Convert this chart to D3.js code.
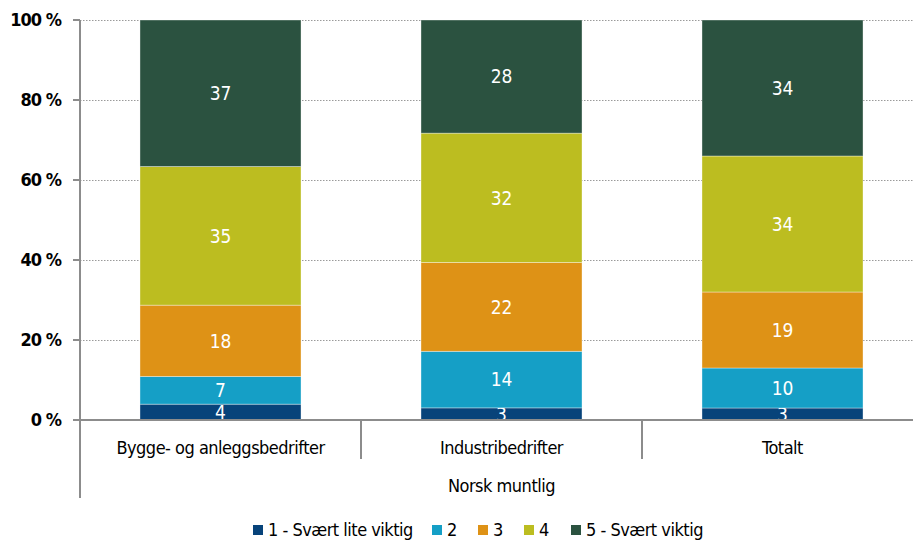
<!DOCTYPE html>
<head>
	<meta charset="UTF-8">
	<script src="https://d3js.org/d3.v7.min.js"></script>
<style>
	body{ margin: 0; background-color: #fff; }
	svg{ display: block; }
	text{ font-family: "DejaVu Sans Condensed", "DejaVu Sans", sans-serif; font-stretch: condensed; }
</style>
</head>
<body>
	<svg width=913 height=540></svg>
</body>
<script>
	// Data
	var categories = ["Bygge- og anleggsbedrifter", "Industribedrifter", "Totalt"];
	var seriesNames = ["1 - Svært lite viktig", "2", "3", "4", "5 - Svært viktig"];
	var seriesColors = ["#07437a", "#159fc6", "#de9216", "#bcbd20", "#2b5240"];
	var s1 = [4, 3, 3];
	var s2 = [7, 14, 10];
	var s3 = [18, 22, 19];
	var s4 = [35, 32, 34];
	var s5 = [37, 28, 34];
	var yTicks = [0, 0.2, 0.4, 0.6, 0.8, 1];
	var groupLabel = "Norsk muntlig";

	var allSeries = [s1, s2, s3, s4, s5];
	var rows = categories.map(function(c, i){
		var r = {cat: c};
		seriesNames.forEach(function(s, j){ r[s] = allSeries[j][i]; });
		return r;
	});

	var svg = d3.select("svg");
	var plotLeft = 80, plotRight = 923, plotTop = 20, plotBottom = 420;
	var axisGray = "#8c8c8c";

	var x = d3.scaleBand().domain(categories).range([plotLeft, plotRight]);
	var y = d3.scaleLinear().domain([0, 1]).range([plotBottom, plotTop]);
	var barW = x.bandwidth() * 0.573;

	// Gridlines (dotted)
	svg.append("g").selectAll("line")
		.data(yTicks.filter(function(t){ return t > 0; })).enter()
		.append("line")
		.attr("x1", plotLeft).attr("x2", 913)
		.attr("y1", function(d){ return y(d) + 0.5; })
		.attr("y2", function(d){ return y(d) + 0.5; })
		.attr("stroke", "#9a9a9a")
		.attr("stroke-width", 1)
		.attr("stroke-dasharray", "1.5,1.5");

	// Stacked bars (normalized to 100 %)
	var stack = d3.stack().keys(seriesNames).offset(d3.stackOffsetExpand);
	var layers = stack(rows);

	var groups = svg.append("g").selectAll("g")
		.data(layers).enter()
		.append("g")
		.attr("fill", function(d, i){ return seriesColors[i]; });

	groups.selectAll("rect")
		.data(function(d){ return d; }).enter()
		.append("rect")
		.attr("x", function(d){ return x(d.data.cat) + (x.bandwidth() - barW) / 2; })
		.attr("width", barW)
		.attr("y", function(d){ return y(d[1]); })
		.attr("height", function(d){ return y(d[0]) - y(d[1]); })
		.attr("stroke", "rgba(255,255,255,0.45)")
		.attr("stroke-width", 0.8);

	// Value labels
	groups.each(function(layer){
		var key = layer.key;
		d3.select(this).selectAll("text")
			.data(layer).enter()
			.append("text")
			.attr("x", function(d){ return x(d.data.cat) + x.bandwidth() / 2; })
			.attr("y", function(d){ return (y(d[0]) + y(d[1])) / 2; })
			.attr("dy", "0.36em")
			.attr("text-anchor", "middle")
			.attr("fill", "#fff")
			.attr("font-size", 19)
			.text(function(d){ return d.data[key]; });
	});

	// Y axis
	var yAxis = svg.append("g");
	yAxis.append("line")
		.attr("x1", plotLeft).attr("x2", plotLeft)
		.attr("y1", plotTop).attr("y2", 498)
		.attr("stroke", axisGray).attr("stroke-width", 2);
	yAxis.selectAll("line.tick")
		.data(yTicks).enter()
		.append("line")
		.attr("class", "tick")
		.attr("x1", 73).attr("x2", plotLeft)
		.attr("y1", function(d){ return y(d); })
		.attr("y2", function(d){ return y(d); })
		.attr("stroke", axisGray).attr("stroke-width", 2);
	yAxis.selectAll("text")
		.data(yTicks).enter()
		.append("text")
		.attr("x", 61)
		.attr("y", function(d){ return y(d); })
		.attr("dy", "0.36em")
		.attr("text-anchor", "end")
		.attr("font-size", 18)
		.attr("font-weight", "bold")
		.attr("letter-spacing", -1)
		.attr("fill", "#000")
		.text(function(d){ return Math.round(d * 100) + " %"; });

	// X axis
	var xAxis = svg.append("g");
	xAxis.append("line")
		.attr("x1", plotLeft).attr("x2", 913)
		.attr("y1", plotBottom).attr("y2", plotBottom)
		.attr("stroke", axisGray).attr("stroke-width", 2);
	xAxis.selectAll("line.sep")
		.data(categories.slice(1)).enter()
		.append("line")
		.attr("class", "sep")
		.attr("x1", function(d){ return x(d); })
		.attr("x2", function(d){ return x(d); })
		.attr("y1", plotBottom).attr("y2", 459)
		.attr("stroke", axisGray).attr("stroke-width", 2);
	xAxis.selectAll("text")
		.data(categories).enter()
		.append("text")
		.attr("x", function(d){ return x(d) + x.bandwidth() / 2; })
		.attr("y", 454)
		.attr("text-anchor", "middle")
		.attr("font-size", 18)
		.attr("letter-spacing", -0.5)
		.attr("fill", "#000")
		.text(function(d){ return d; });
	xAxis.append("text")
		.attr("x", (plotLeft + plotRight) / 2)
		.attr("y", 492)
		.attr("text-anchor", "middle")
		.attr("font-size", 18)
		.attr("letter-spacing", -0.5)
		.attr("fill", "#000")
		.text(groupLabel);

	// Legend
	var legend = svg.append("g");
	var legendX = [253, 432, 478, 524, 571];
	seriesNames.forEach(function(s, i){
		legend.append("rect")
			.attr("x", legendX[i]).attr("y", 525)
			.attr("width", 10).attr("height", 10)
			.attr("fill", seriesColors[i]);
		legend.append("text")
			.attr("x", legendX[i] + 15).attr("y", 530)
			.attr("dy", "0.36em")
			.attr("font-size", 18)
			.attr("letter-spacing", -0.5)
			.attr("fill", "#000")
			.text(s);
	});
</script>
